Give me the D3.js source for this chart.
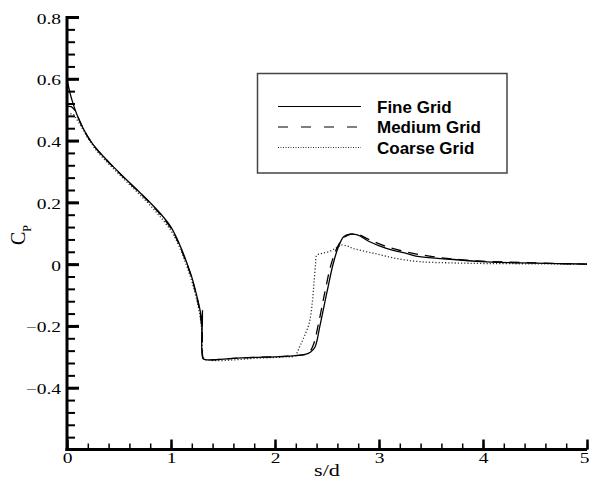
<!DOCTYPE html>
<html>
<head>
<meta charset="utf-8">
<script src="https://cdn.jsdelivr.net/npm/d3@7"></script>
<style>
  html, body { margin: 0; padding: 0; background: #fff; }
  svg { display: block; }
</style>
</head>
<body>
<svg id="chart" width="589" height="487"></svg>
<script>
// ---------- data ----------
const seriesNames = ["Fine Grid", "Medium Grid", "Coarse Grid"];

const fineS  = [0, 0.03, 0.06, 0.1, 0.15, 0.2, 0.25, 0.3, 0.4, 0.5, 0.6, 0.7, 0.8, 0.9, 1.0, 1.05, 1.1, 1.15, 1.2, 1.25, 1.28, 1.295, 1.3, 1.303, 1.307, 1.33, 1.4, 1.6, 1.8, 2.0, 2.17, 2.28, 2.34, 2.385, 2.43, 2.5, 2.56, 2.61, 2.66, 2.72, 2.8, 2.9, 3.07, 3.27, 3.39, 3.72, 4.04, 4.36, 4.7, 5.0];
const fineCp = [0.60, 0.553, 0.518, 0.48, 0.443, 0.413, 0.388, 0.367, 0.331, 0.297, 0.264, 0.232, 0.199, 0.163, 0.12, 0.088, 0.05, 0.006, -0.042, -0.105, -0.15, -0.19, -0.22, -0.15, -0.305, -0.309, -0.31, -0.305, -0.302, -0.300, -0.297, -0.293, -0.285, -0.268, -0.203, -0.09, 0.002, 0.056, 0.089, 0.097, 0.094, 0.074, 0.051, 0.034, 0.024, 0.015, 0.0075, 0.004, 0.002, 0.0];

const medS  = [0, 0.04, 0.07, 0.1, 0.15, 0.2, 0.25, 0.3, 0.4, 0.5, 0.6, 0.7, 0.8, 0.9, 1.0, 1.05, 1.1, 1.15, 1.2, 1.25, 1.28, 1.3, 1.31, 1.33, 1.4, 1.6, 1.8, 2.0, 2.17, 2.28, 2.33, 2.37, 2.42, 2.48, 2.54, 2.6, 2.66, 2.73, 2.8, 2.9, 3.07, 3.27, 3.5, 3.8, 4.1, 4.5, 5.0];
const medCp = [0.51, 0.51, 0.50, 0.48, 0.443, 0.412, 0.387, 0.366, 0.33, 0.296, 0.263, 0.231, 0.197, 0.16, 0.116, 0.085, 0.047, 0.003, -0.046, -0.11, -0.16, -0.22, -0.305, -0.309, -0.31, -0.305, -0.302, -0.300, -0.297, -0.293, -0.285, -0.26, -0.19, -0.09, 0.0, 0.055, 0.085, 0.097, 0.096, 0.08, 0.057, 0.039, 0.025, 0.014, 0.008, 0.004, 0.0];

const coarseS  = [0, 0.06, 0.09, 0.12, 0.15, 0.2, 0.25, 0.3, 0.4, 0.5, 0.6, 0.7, 0.8, 0.9, 1.0, 1.05, 1.1, 1.15, 1.2, 1.25, 1.28, 1.3, 1.315, 1.4, 1.6, 1.8, 2.0, 2.12, 2.19, 2.24, 2.28, 2.33, 2.36, 2.375, 2.39, 2.40, 2.45, 2.53, 2.6, 2.64, 2.7, 2.75, 2.95, 3.17, 3.39, 3.7, 4.04, 4.5, 5.0];
const coarseCp = [0.485, 0.485, 0.47, 0.455, 0.438, 0.408, 0.383, 0.361, 0.325, 0.291, 0.258, 0.225, 0.19, 0.152, 0.108, 0.078, 0.04, -0.005, -0.055, -0.12, -0.17, -0.23, -0.305, -0.312, -0.31, -0.305, -0.302, -0.300, -0.297, -0.265, -0.235, -0.19, -0.12, -0.06, 0.0, 0.028, 0.035, 0.042, 0.055, 0.062, 0.058, 0.051, 0.035, 0.018, 0.008, 0.004, 0.002, 0.001, 0.0];

const xMajorTicks = [0, 1, 2, 3, 4, 5];
const xMinorTicks = d3.range(0, 5.0001, 0.2);
const yMajorTicks = [-0.4, -0.2, 0, 0.2, 0.4, 0.6, 0.8];
const yMinorTicks = d3.range(-0.6, 0.8001, 0.04);

// ---------- layout ----------
const svg = d3.select("#chart");
const x = d3.scaleLinear().domain([0, 5]).range([67, 587]);
const y = d3.scaleLinear().domain([-0.6, 0.8]).range([449.5, 17]);

const series = [
  { name: seriesNames[0], s: fineS, cp: fineCp, dash: null, color: "#000", width: 1.3 },
  { name: seriesNames[1], s: medS, cp: medCp, dash: "10,7", color: "#000", width: 1.3 },
  { name: seriesNames[2], s: coarseS, cp: coarseCp, dash: "1.2,2", color: "#333", width: 1.3 }
];

const line = d3.line()
  .x(d => x(d[0]))
  .y(d => y(d[1]))
  .curve(d3.curveCatmullRom.alpha(0.5));

[...series].reverse().forEach(sr => {
  const pts = sr.s.map((v, i) => [v, sr.cp[i]]);
  svg.append("path")
    .datum(pts)
    .attr("d", line)
    .attr("fill", "none")
    .attr("stroke", sr.color)
    .attr("stroke-width", sr.width)
    .attr("stroke-dasharray", sr.dash);
});

// ---------- axes ----------
const serif = "'Liberation Serif', 'Times New Roman', serif";

svg.append("g")
  .attr("transform", `translate(0,${y(-0.6)})`)
  .call(d3.axisBottom(x).tickValues(xMinorTicks).tickSize(-6).tickSizeOuter(0).tickFormat(""))
  .call(g => g.select(".domain").remove())
  .call(g => g.selectAll("line").attr("stroke", "#000").attr("stroke-width", 1.5));

const gx = svg.append("g")
  .attr("transform", `translate(0,${y(-0.6)})`)
  .call(d3.axisBottom(x).tickValues(xMajorTicks).tickSize(-10).tickSizeOuter(0).tickFormat(d3.format("d")))
  .call(g => g.select(".domain").remove())
  .call(g => g.selectAll("line").attr("stroke", "#000").attr("stroke-width", 2.5));
gx.selectAll("text")
  .attr("y", null).attr("dy", null)
  .attr("transform", d => d === 5 ? "translate(-3,13) scale(1.3,1)" : "translate(0,13) scale(1.3,1)")
  .attr("text-anchor", "middle")
  .attr("fill", "#000")
  .style("font-family", serif)
  .style("font-size", "15px");

svg.append("g")
  .attr("transform", `translate(${x(0)},0)`)
  .call(d3.axisLeft(y).tickValues(yMinorTicks).tickSize(-8).tickSizeOuter(0).tickFormat(""))
  .call(g => g.select(".domain").remove())
  .call(g => g.selectAll("line").attr("stroke", "#000").attr("stroke-width", 2));

const fmtY = d => (Math.abs(d) < 1e-9 ? "0" : d3.format(".1f")(d));
const gy = svg.append("g")
  .attr("transform", `translate(${x(0)},0)`)
  .call(d3.axisLeft(y).tickValues(yMajorTicks).tickSize(-12).tickSizeOuter(0).tickFormat(fmtY))
  .call(g => g.select(".domain").remove())
  .call(g => g.selectAll("line").attr("stroke", "#000").attr("stroke-width", 3));
gy.selectAll("text")
  .attr("x", null).attr("dy", null)
  .attr("transform", "translate(-6,6) scale(1.3,1)")
  .attr("text-anchor", "end")
  .attr("fill", "#000")
  .style("font-family", serif)
  .style("font-size", "15px");

svg.append("line")
  .attr("x1", x(0)).attr("x2", x(0))
  .attr("y1", y(0.8) - 1).attr("y2", y(-0.6) + 1.5)
  .attr("stroke", "#000").attr("stroke-width", 3);
svg.append("line")
  .attr("x1", x(0) - 1.5).attr("x2", x(5))
  .attr("y1", y(-0.6)).attr("y2", y(-0.6))
  .attr("stroke", "#000").attr("stroke-width", 3);

svg.append("text")
  .attr("transform", `translate(${(x(0) + x(5)) / 2},476) scale(1.3,1)`)
  .attr("text-anchor", "middle")
  .style("font-family", serif)
  .style("font-size", "17px")
  .text("s/d");

const yt = svg.append("text")
  .attr("transform", "translate(25,245) rotate(-90)")
  .style("font-family", serif)
  .style("font-size", "20px");
yt.append("tspan").text("C");
yt.append("tspan").attr("dy", 6).style("font-size", "12px").text("P");

// ---------- legend ----------
const lg = svg.append("g");
lg.append("rect")
  .attr("x", 257.5).attr("y", 73.5)
  .attr("width", 249.5).attr("height", 99.5)
  .attr("fill", "#fff")
  .attr("stroke", "#444")
  .attr("stroke-width", 1.5);
const rowsY = [106.5, 127, 147.5];
series.forEach((sr, i) => {
  lg.append("line")
    .attr("x1", 278).attr("x2", 361)
    .attr("y1", rowsY[i]).attr("y2", rowsY[i])
    .attr("stroke", sr.color)
    .attr("stroke-width", 1.2)
    .attr("stroke-dasharray", i === 1 ? "10,13" : (i === 2 ? "1,1.5" : null));
  lg.append("text")
    .attr("x", 377).attr("y", rowsY[i] + 6)
    .style("font-family", "'Liberation Sans', Arial, sans-serif")
    .style("font-weight", "bold")
    .style("font-size", "17px")
    .text(sr.name);
});
</script>
</body>
</html>
